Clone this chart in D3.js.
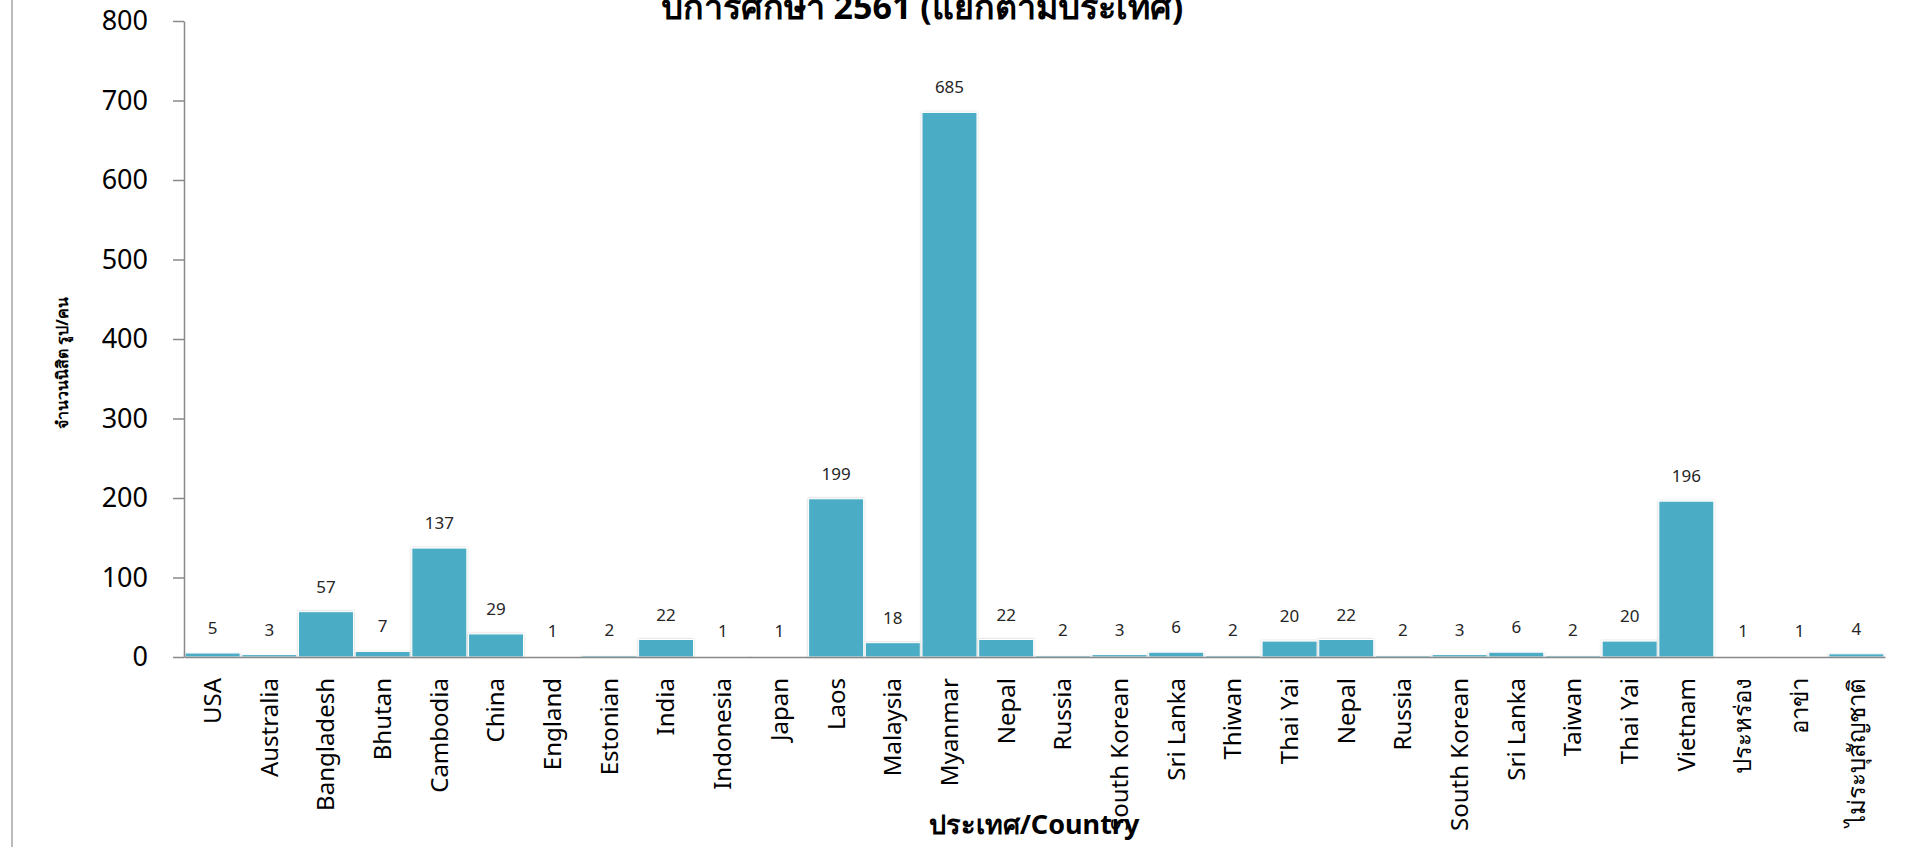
<!DOCTYPE html>
<html>
<head>
<meta charset="utf-8">
<script src="https://cdn.jsdelivr.net/npm/d3@7"></script>
<style>
    html, body { margin: 0; padding: 0; background: #fff; overflow: hidden; }
    svg { display: block; font-family: "Noto Sans", "DejaVu Sans", sans-serif; }
</style>
</head>
<body>
<div id="chart"></div>
<script>
(function () {
    'use strict';

    // data
    var countries = ["USA", "Australia", "Bangladesh", "Bhutan", "Cambodia", "China",
        "England", "Estonian", "India", "Indonesia", "Japan", "Laos", "Malaysia",
        "Myanmar", "Nepal", "Russia", "South Korean", "Sri Lanka", "Thiwan", "Thai Yai",
        "Nepal", "Russia", "South Korean", "Sri Lanka", "Taiwan", "Thai Yai", "Vietnam",
        "ประหร่อง", "อาข่า", "ไม่ระบุสัญชาติ"];
    var students = [5, 3, 57, 7, 137, 29, 1, 2, 22, 1, 1, 199, 18, 685, 22, 2, 3, 6, 2, 20,
        22, 2, 3, 6, 2, 20, 196, 1, 1, 4];
    var yTicks = [0, 100, 200, 300, 400, 500, 600, 700, 800];

    var width = 1912, height = 847;
    var left = 184, right = 1885, top = 21, bottom = 657;

    var svg = d3.select("#chart")
        .append("svg")
        .attr("width", width)
        .attr("height", height);

    // soft shadow like the excel bars
    var filter = svg.append("defs").append("filter")
        .attr("id", "shadow")
        .attr("x", "-10%").attr("y", "-10%")
        .attr("width", "120%").attr("height", "120%");
    filter.append("feDropShadow")
        .attr("dx", 0).attr("dy", 0)
        .attr("stdDeviation", 1.2)
        .attr("flood-color", "#000")
        .attr("flood-opacity", 0.25);

    // chart area border on the left
    svg.append("line")
        .attr("x1", 12).attr("x2", 12)
        .attr("y1", 0).attr("y2", height)
        .attr("stroke", "#a6a6a6")
        .attr("stroke-width", 1.5);

    var x = d3.scaleBand()
        .domain(d3.range(countries.length))
        .range([left, right])
        .paddingInner(0.03)
        .paddingOuter(0.02);

    var y = d3.scaleLinear()
        .domain([0, 800])
        .range([bottom, top]);

    // title (its upper part is cut by the top edge, as in the original)
    svg.append("text")
        .attr("x", 922)
        .attr("y", 19)
        .attr("text-anchor", "middle")
        .attr("font-weight", "bold")
        .attr("font-size", 34)
        .attr("fill", "#000")
        .text("ปีการศึกษา 2561 (แยกตามประเทศ)");

    // bars
    svg.selectAll("rect.bar")
        .data(students)
        .enter()
        .append("rect")
        .attr("class", "bar")
        .attr("x", function (d, i) { return x(i); })
        .attr("y", function (d) { return y(d); })
        .attr("width", x.bandwidth())
        .attr("height", function (d) { return bottom - y(d); })
        .attr("fill", "#4bacc6")
        .attr("stroke", "#ffffff")
        .attr("stroke-width", 1)
        .attr("filter", "url(#shadow)");

    // value labels
    svg.selectAll("text.val")
        .data(students)
        .enter()
        .append("text")
        .attr("class", "val")
        .attr("x", function (d, i) { return x(i) + x.bandwidth() / 2; })
        .attr("y", function (d) { return y(d) - 19; })
        .attr("text-anchor", "middle")
        .attr("font-size", 17)
        .attr("fill", "#262626")
        .text(function (d) { return d; });

    // y axis
    var yAxis = svg.append("g")
        .attr("transform", "translate(" + left + ",0)")
        .call(d3.axisLeft(y).tickValues(yTicks).tickSize(11).tickSizeOuter(0).tickPadding(25));
    yAxis.select(".domain").attr("stroke", "#898989").attr("stroke-width", 1.5);
    yAxis.selectAll(".tick line").attr("stroke", "#898989").attr("stroke-width", 1.5);
    yAxis.selectAll(".tick text")
        .attr("font-size", 27)
        .attr("font-family", "Noto Sans, sans-serif")
        .attr("fill", "#000");

    // x axis
    var xAxis = svg.append("g")
        .attr("transform", "translate(0," + bottom + ")")
        .call(d3.axisBottom(x).tickSize(0).tickSizeOuter(0)
            .tickFormat(function (i) { return countries[i]; }));
    xAxis.select(".domain").attr("stroke", "#898989").attr("stroke-width", 1.5);
    xAxis.selectAll(".tick text")
        .attr("transform", "rotate(-90)")
        .attr("x", -21)
        .attr("y", 0)
        .attr("dy", "0.35em")
        .style("text-anchor", "end")
        .attr("font-size", 24)
        .attr("font-family", "Noto Sans, sans-serif")
        .attr("fill", "#000");

    // axis titles
    svg.append("text")
        .attr("transform", "translate(62,363) rotate(-90)")
        .attr("text-anchor", "middle")
        .attr("dy", "0.35em")
        .attr("font-weight", "bold")
        .attr("font-size", 16)
        .attr("fill", "#000")
        .text("จำนวนนิสิต รูป/คน");

    svg.append("text")
        .attr("x", 1034)
        .attr("y", 834)
        .attr("text-anchor", "middle")
        .attr("font-weight", "bold")
        .attr("font-size", 27)
        .attr("fill", "#000")
        .text("ประเทศ/Country");
}());
</script>
</body>
</html>
